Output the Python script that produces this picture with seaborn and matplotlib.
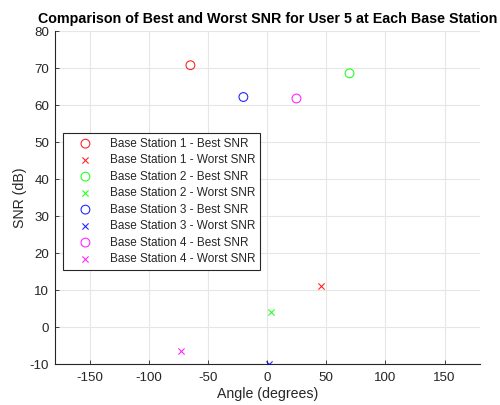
import matplotlib
matplotlib.use("Agg")
import matplotlib.pyplot as plt
import seaborn as sns
import pandas as pd

stations = ["Base Station 1", "Base Station 2", "Base Station 3", "Base Station 4"]
colors = ["#ff0000", "#00ff00", "#0000ff", "#ff00ff"]
best_angle = [-65.0, 69.6, -20.2, 24.7]
best_snr = [70.8, 68.6, 62.2, 61.8]
worst_angle = [45.6, 3.1, 1.2, -72.6]
worst_snr = [11.0, 4.1, -9.9, -6.4]
xticks = [-150, -100, -50, 0, 50, 100, 150]
yticks = [-10, 0, 10, 20, 30, 40, 50, 60, 70, 80]

sns.set_theme(style="whitegrid")
plt.rcParams['font.family'] = ['Liberation Sans', 'DejaVu Sans']

fig = plt.figure(figsize=(5.0, 4.05), dpi=100)
ax = fig.add_axes([0.109, 0.101, 0.851, 0.822])

for i, st in enumerate(stations):
    dfb = pd.DataFrame({"Angle": [best_angle[i]], "SNR": [best_snr[i]]})
    dfw = pd.DataFrame({"Angle": [worst_angle[i]], "SNR": [worst_snr[i]]})
    sns.scatterplot(data=dfb, x="Angle", y="SNR", ax=ax, marker="o", s=40,
                    facecolor="none", edgecolor=colors[i], linewidth=0.8,
                    alpha=0.85, label=f"{st} - Best SNR", zorder=3)
    sns.scatterplot(data=dfw, x="Angle", y="SNR", ax=ax, marker="x", s=20,
                    color=colors[i], linewidth=0.8, alpha=0.85,
                    label=f"{st} - Worst SNR", zorder=3)

ax.set_xlim(-180, 180)
ax.set_ylim(-10, 80)
ax.set_xticks(xticks)
ax.set_yticks(yticks)
ax.set_xticklabels([str(t) for t in xticks])
ax.set_yticklabels([str(t) for t in yticks])
ax.grid(True, color="#e6e6e6", linewidth=0.8)
ax.set_axisbelow(True)
for side in ["top", "right"]:
    ax.spines[side].set_visible(False)
for side in ["left", "bottom"]:
    ax.spines[side].set_color("#262626")
    ax.spines[side].set_linewidth(0.8)
ax.tick_params(axis="both", direction="in", length=3, width=0.6, colors="#262626",
               labelsize=9.6, labelcolor="#262626")
ax.tick_params(axis="x", pad=6)
ax.tick_params(axis="y", pad=4)
ax.tick_params(bottom=True, left=True)

ax.set_xlabel("Angle (degrees)", fontsize=10.2, color="#262626", labelpad=2)
ax.set_ylabel("SNR (dB)", fontsize=10.2, color="#262626", labelpad=2)
ax.set_title("Comparison of Best and Worst SNR for User 5 at Each Base Station",
             fontsize=10.3, fontweight="bold", color="black", pad=6)

leg = ax.legend(loc="upper left", bbox_to_anchor=(0.02, 0.694), fontsize=8.5,
                frameon=True, fancybox=False, edgecolor="#262626",
                framealpha=1, labelspacing=0.38, handletextpad=0.6,
                borderpad=0.4, handlelength=3.0, borderaxespad=0)
leg.get_frame().set_linewidth(0.8)
for t in leg.get_texts():
    t.set_color("#262626")

fig.savefig("out.png", dpi=100)
